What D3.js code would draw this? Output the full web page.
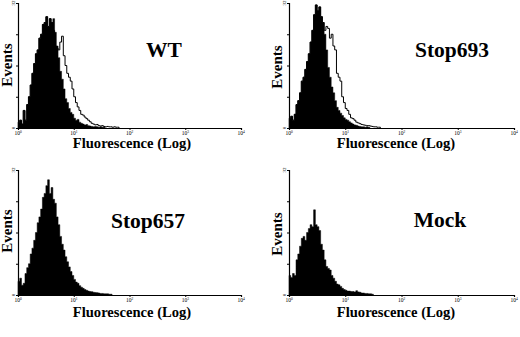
<!DOCTYPE html>
<html><head><meta charset="utf-8">
<script src="https://cdn.jsdelivr.net/npm/d3@7/dist/d3.min.js"></script>
<style>body{margin:0;background:#fff}svg{display:block}</style>
</head><body>
<svg id="c" width="520" height="337"></svg>
<script>
// channels: 32 per decade, channel i spans 10^(i/32) .. 10^((i+1)/32)
const CH_PER_DECADE = 32;
const panelNames = ["WT", "Stop693", "Stop657", "Mock"];
const xTickExps = [0, 1, 2, 3, 4];
const yMax = 32;
const yTickValues = [0, 8, 16, 24, 32];
const yTickLabels = ["0", "", "", "", "32"];

const wtFilled = [1.5,2,1,4.5,2,6,8,11,14,16.5,19,20,23,24,26.5,27,28.5,26,28,27,28,24.5,21,18,14.5,12.5,10,7.5,6.5,5,4,3.5,2.5,2,2.2,1.5,1.2,1,0.8,0.9,0.6,0.5,0.4,0.3,0.4,0.3,0.2,0.3,0.2,0.2];
const wtOutline = [1.5,2,1,4.5,2,6,8,11,14,16.5,19,20,23,24,26.5,27,28.5,26,28,27,25,21,20.5,20,22,23.5,18.5,16,14,13,12,10,8,6.5,5.4,4.5,3.5,3.3,2.8,2.4,2,1.6,1.2,1,0.8,0.9,0.6,0.5,0.6,0.4,0.3,0.4,0.3,0.3,0.2,0.3,0.2,0.2];
const s693Filled = [2.5,3,2,3.5,6,7,9,12,13,15,17,19,22,25,29,31.5,30,31,28.5,27,24,20,15.5,13,10.5,9,7,5.3,4.5,3.8,3.2,2.6,2.2,2,1.6,1.3,1,0.8,0.7,0.5,0.4,0.3,0.3,0.2,0.3,0.2];
const s693Outline = [2.5,3,2,3.5,6,7,9,12,13,15,17,19,22,25,29,31.5,30,31,28.5,27,25,26,25.5,23,24,21,20,14,13,12,8,6.5,5,4.5,3.5,2.6,2.4,2,1.5,1.3,1.1,0.9,0.8,0.7,0.6,0.6,0.5,0.4,0.3,0.3,0.2,0.2];
const s657Filled = [3.5,4.3,2.5,3,5.5,7,8,10.5,12,14,16,18.5,20,22,25,26,28,29.5,26,27.5,24.5,23.5,20,18,15,13,11.5,9.8,8.5,7.2,6,5,4,3.3,3,2.4,2,1.7,1.4,1.2,1,0.9,0.85,0.7,0.65,0.6,0.5,0.4,0.4,0.3,0.3,0.3,0.2,0.2];
const mockFilled = [5,4.5,5.5,5,9,10.5,12.5,14.5,15,14,16,17,18,17.5,21.8,18,17.5,16.5,13,11.5,9,7.3,6.8,6.4,5,4.3,3.5,2.8,2.6,2.2,1.7,1.4,1.2,1,1,0.9,0.9,0.8,1.1,0.8,0.7,0.5,0.5,0.4,0.4,0.3,0.3,0.2];

const panels = [
  {name: panelNames[0], filled: wtFilled, outline: wtOutline, x0: 18, x1: 241, top: 3, base: 128, lx: 164, ly: 57, fx: 132, fy: 148, ex: 12, ey: 65},
  {name: panelNames[1], filled: s693Filled, outline: s693Outline, x0: 289, x1: 514, top: 3, base: 128, lx: 452, ly: 57, fx: 396, fy: 148, ex: 282, ey: 67},
  {name: panelNames[2], filled: s657Filled, outline: null, x0: 18, x1: 241, top: 170, base: 295, lx: 148, ly: 228, fx: 132, fy: 317, ex: 12, ey: 231},
  {name: panelNames[3], filled: mockFilled, outline: null, x0: 289, x1: 514, top: 170, base: 295, lx: 440, ly: 227, fx: 396, fy: 317, ex: 282, ey: 234}
];

const svg = d3.select("#c");
const serif = "'Liberation Serif','Times New Roman',serif";

panels.forEach(p => {
  const g = svg.append("g");
  const x = d3.scaleLog().domain([1, 1e4]).range([p.x0, p.x1]);
  const y = d3.scaleLinear().domain([0, yMax]).range([p.base, p.top]);
  const toPts = arr => {
    const pts = arr.map((v, i) => ({lo: Math.pow(10, i / CH_PER_DECADE), v}));
    pts.push({lo: Math.pow(10, arr.length / CH_PER_DECADE), v: 0});
    return pts;
  };
  const area = d3.area().curve(d3.curveStepAfter).x(d => x(d.lo)).y0(y(0)).y1(d => y(d.v));
  const line = d3.line().curve(d3.curveStepAfter).x(d => x(d.lo)).y(d => y(d.v));
  if (p.outline) {
    g.append("path").attr("d", line(toPts(p.outline))).attr("fill", "none").attr("stroke", "#000").attr("stroke-width", 1);
  }
  g.append("path").attr("d", area(toPts(p.filled))).attr("fill", "#000").attr("stroke", "#000").attr("stroke-width", 0.5);

  // axes
  const xa = d3.axisBottom(x).tickValues(xTickExps.map(e => Math.pow(10, e))).tickSize(2).tickFormat("");
  const gx = g.append("g").attr("transform", `translate(0,${p.base})`).call(xa);
  gx.select(".domain").attr("stroke-width", 1.2);
  gx.selectAll("text").remove();
  xTickExps.forEach(e => {
    const t = g.append("text").attr("x", x(Math.pow(10, e))).attr("y", p.base + 7)
      .attr("text-anchor", "middle").attr("font-family", serif).attr("font-size", 5.5).attr("fill", "#000");
    t.append("tspan").text("10");
    t.append("tspan").attr("dy", -2).attr("font-size", 3.5).text(e);
  });
  const ya = d3.axisLeft(y).tickValues(yTickValues).tickSize(2).tickFormat("");
  const gy = g.append("g").attr("transform", `translate(${p.x0},0)`).call(ya);
  gy.select(".domain").attr("stroke-width", 1.2);
  yTickValues.forEach((v, i) => {
    if (!yTickLabels[i]) return;
    g.append("text").attr("transform", `translate(${p.x0 - 3},${y(v)}) rotate(-90)`)
      .attr("text-anchor", "middle").attr("font-family", serif).attr("font-size", 5).attr("fill", "#000").text(yTickLabels[i]);
  });

  g.append("text").attr("x", p.lx).attr("y", p.ly).attr("text-anchor", "middle")
    .attr("font-family", serif).attr("font-weight", "bold").attr("font-size", 21.5).text(p.name);
  g.append("text").attr("x", p.fx).attr("y", p.fy).attr("text-anchor", "middle")
    .attr("font-family", serif).attr("font-weight", "bold").attr("font-size", 14.6).text("Fluorescence (Log)");
  g.append("text").attr("transform", `translate(${p.ex},${p.ey}) rotate(-90)`).attr("text-anchor", "middle")
    .attr("font-family", serif).attr("font-weight", "bold").attr("font-size", 15).text("Events");
});
</script>
</body></html>
